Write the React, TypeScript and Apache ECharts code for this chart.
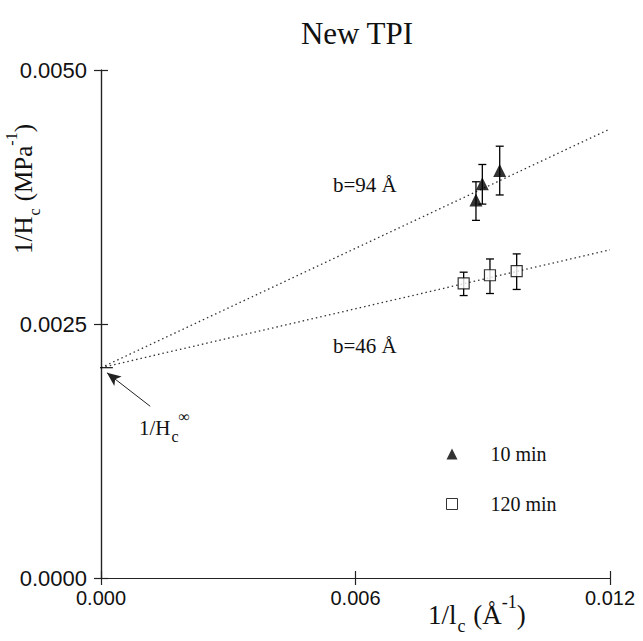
import React, { useEffect, useRef } from "react";
import * as echarts from "echarts";

// ---- data ----
const X_TICKS = ["0.000", "0.006", "0.012"];
const Y_TICKS = ["0.0000", "0.0025", "0.0050"];

const triX = [0.00884, 0.00899, 0.0094];
const triY = [0.00372, 0.00388, 0.00401];
const triLo = [0.00352, 0.00368, 0.00377];
const triHi = [0.0039, 0.00407, 0.00425];

const sqX = [0.00855, 0.00917, 0.0098];
const sqY = [0.0029, 0.00298, 0.00302];
const sqLo = [0.00278, 0.0028, 0.00284];
const sqHi = [0.00301, 0.00314, 0.00319];

const fit94X = [0, 0.012];
const fit94Y = [0.00207, 0.00442];
const fit46X = [0, 0.012];
const fit46Y = [0.00207, 0.00323];

const interceptY = 0.00207;
const interceptMarkX = [-0.00026, 0.00028];
const arrowFrom = [0.00116, 0.00169];
const arrowTo = [0.00014, 0.00202];

const SERIF = "'Liberation Serif', 'Times New Roman', serif";
const SANS = "'Liberation Sans', Arial, sans-serif";

function errorSeries(xs: number[], lo: number[], hi: number[]) {
  const data = xs.map((x, i) => [x, lo[i], hi[i]]);
  return {
    type: "custom",
    silent: true,
    z: 3,
    data,
    renderItem: (params: any, api: any) => {
      const x = api.value(0);
      const p1 = api.coord([x, api.value(1)]);
      const p2 = api.coord([x, api.value(2)]);
      const w = 4;
      const st = { stroke: "#000", lineWidth: 1.3 };
      return {
        type: "group",
        children: [
          { type: "line", shape: { x1: p1[0], y1: p1[1], x2: p2[0], y2: p2[1] }, style: st },
          { type: "line", shape: { x1: p1[0] - w, y1: p1[1], x2: p1[0] + w, y2: p1[1] }, style: st },
          { type: "line", shape: { x1: p2[0] - w, y1: p2[1], x2: p2[0] + w, y2: p2[1] }, style: st },
        ],
      };
    },
  };
}

export default function App() {
  const ref = useRef<HTMLDivElement>(null);
  useEffect(() => {
    if (!ref.current) return;
    const chart = echarts.init(ref.current, null, { renderer: "svg" });
    const axisCommon = {
      type: "value",
      axisLine: { show: true, lineStyle: { color: "#222", width: 1.2 } },
      axisTick: { show: true, inside: true, length: 7, lineStyle: { color: "#222", width: 1.2 } },
      splitLine: { show: false },
    };
    const option: any = {
      animation: false,
      backgroundColor: "#fff",
      title: {
        text: "New TPI",
        left: 352,
        top: 13,
        textAlign: "center",
        textStyle: { fontFamily: SERIF, fontSize: 31, fontWeight: "normal", color: "#111" },
      },
      grid: { left: 101, right: 33, top: 70, bottom: 63 },
      xAxis: [
        {
          ...axisCommon,
          position: "bottom",
          min: 0,
          max: 0.012,
          interval: 0.006,
          axisLabel: {
            margin: 10,
            fontFamily: SANS,
            fontSize: 20,
            color: "#111",
            formatter: (v: number) => X_TICKS[Math.round(v / 0.006)] ?? "",
          },
        },
        {
          ...axisCommon,
          position: "top",
          min: 0,
          max: 0.012,
          interval: 0.006,
          axisLabel: { show: false },
        },
      ],
      yAxis: [
        {
          ...axisCommon,
          position: "left",
          min: 0,
          max: 0.005,
          interval: 0.0025,
          axisLabel: {
            margin: 14,
            fontFamily: SANS,
            fontSize: 22,
            color: "#111",
            formatter: (v: number) => Y_TICKS[Math.round(v / 0.0025)] ?? "",
          },
        },
        {
          ...axisCommon,
          position: "right",
          min: 0,
          max: 0.005,
          interval: 0.0025,
          axisLabel: { show: false },
        },
      ],
      legend: {
        orient: "vertical",
        left: 441,
        top: 439,
        itemGap: 30,
        itemWidth: 11,
        itemHeight: 11,
        textStyle: { fontFamily: SERIF, fontSize: 20, color: "#111", padding: [0, 0, 0, 28] },
        data: [
          { name: "10 min", icon: "triangle", itemStyle: { color: "#000" } },
          { name: "120 min", icon: "rect", itemStyle: { color: "#fff", borderColor: "#000", borderWidth: 1 } },
        ],
      },
      graphic: [
        {
          type: "text",
          left: 333,
          top: 174,
          style: { text: "b=94 Å", font: `21px ${SERIF}`, fill: "#111" },
        },
        {
          type: "text",
          left: 333,
          top: 335,
          style: { text: "b=46 Å", font: `21px ${SERIF}`, fill: "#111" },
        },
        {
          type: "text",
          left: 139,
          top: 408,
          style: {
            text: "{a|1/H}{s|c}{p|∞}",
            rich: {
              a: { fontFamily: SERIF, fontSize: 21, fill: "#111", lineHeight: 26, verticalAlign: "bottom" },
              s: { fontFamily: SERIF, fontSize: 16, fill: "#111", verticalAlign: "bottom", lineHeight: 14, padding: [0, 0, -6, 1] },
              p: { fontFamily: SERIF, fontSize: 16, fill: "#111", verticalAlign: "top", lineHeight: 16, padding: [-4, 0, 0, 0] },
            },
          },
        },
        {
          type: "text",
          left: 428,
          top: 593,
          style: {
            text: "{a|1/l}{s|c}{a| (Å}{p|-1}{a|)}",
            rich: {
              a: { fontFamily: SERIF, fontSize: 27, fill: "#111", lineHeight: 32, verticalAlign: "bottom" },
              s: { fontFamily: SERIF, fontSize: 18, fill: "#111", verticalAlign: "bottom", lineHeight: 16, padding: [0, 1, -7, 1] },
              p: { fontFamily: SERIF, fontSize: 18, fill: "#111", verticalAlign: "top", lineHeight: 18, padding: [-3, 0, 0, 0] },
            },
          },
        },
        {
          type: "group",
          left: 3,
          top: 124,
          children: [
            {
              type: "text",
              rotation: Math.PI / 2,
              x: 0,
              y: 126,
              style: {
                text: "{a|1/H}{s|c}{a| (MPa}{p|-1}{a|)}",
                rich: {
                  a: { fontFamily: SERIF, fontSize: 25, fill: "#111", lineHeight: 30, verticalAlign: "bottom" },
                  s: { fontFamily: SERIF, fontSize: 16, fill: "#111", verticalAlign: "bottom", lineHeight: 15, padding: [0, 1, -6, 1] },
                  p: { fontFamily: SERIF, fontSize: 16, fill: "#111", verticalAlign: "top", lineHeight: 17, padding: [-3, 0, 0, 0] },
                },
              },
            },
          ],
        },
      ],
      series: [
        {
          name: "fit94",
          type: "line",
          silent: true,
          symbol: "none",
          data: fit94X.map((x, i) => [x, fit94Y[i]]),
          lineStyle: { color: "#333", width: 1.3, type: [1.5, 3] },
          z: 1,
        },
        {
          name: "fit46",
          type: "line",
          silent: true,
          symbol: "none",
          data: fit46X.map((x, i) => [x, fit46Y[i]]),
          lineStyle: { color: "#333", width: 1.3, type: [1.5, 3] },
          z: 1,
        },
        {
          name: "intercept",
          type: "line",
          silent: true,
          symbol: "none",
          clip: false,
          data: interceptMarkX.map((x) => [x, interceptY]),
          lineStyle: { color: "#111", width: 1.2 },
          markLine: {
            silent: true,
            symbol: ["none", "arrow"],
            symbolSize: [9, 14],
            label: { show: false },
            lineStyle: { color: "#222", width: 1, type: "solid" },
            data: [[{ coord: arrowFrom }, { coord: arrowTo }]],
          },
          z: 2,
        },
        errorSeries(triX, triLo, triHi),
        errorSeries(sqX, sqLo, sqHi),
        {
          name: "10 min",
          type: "scatter",
          symbol: "triangle",
          symbolSize: 13,
          itemStyle: { color: "#000" },
          data: triX.map((x, i) => [x, triY[i]]),
          z: 5,
        },
        {
          name: "120 min",
          type: "scatter",
          symbol: "rect",
          symbolSize: 11,
          itemStyle: { color: "#fff", borderColor: "#000", borderWidth: 1.2 },
          data: sqX.map((x, i) => [x, sqY[i]]),
          z: 5,
        },
      ],
    };
    chart.setOption(option);
    return () => chart.dispose();
  }, []);
  return (
    <div
      ref={ref}
      style={{ position: "absolute", left: 0, top: 0, width: 643, height: 641 }}
    />
  );
}
